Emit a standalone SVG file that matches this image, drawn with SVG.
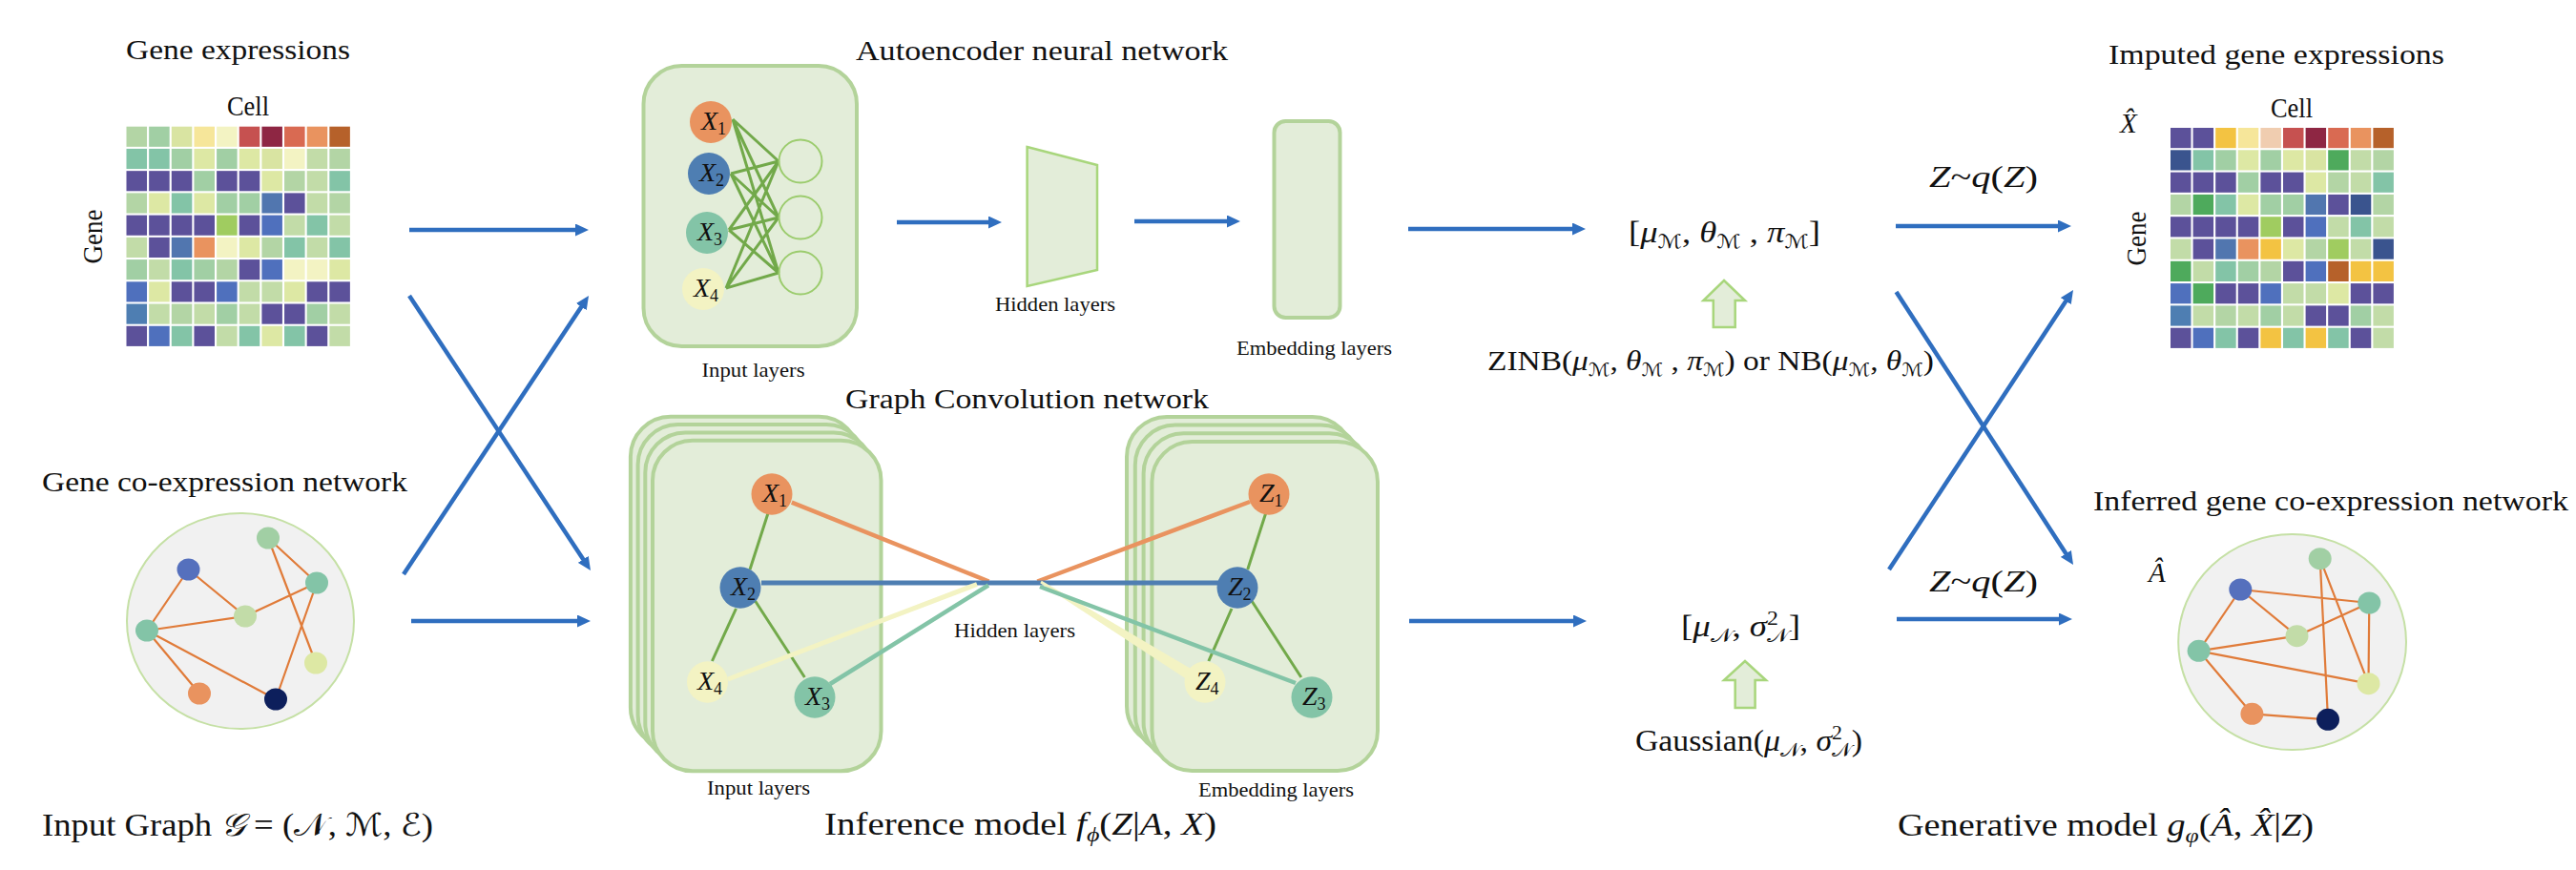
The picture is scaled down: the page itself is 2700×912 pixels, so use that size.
<svg xmlns="http://www.w3.org/2000/svg" width="2700" height="912" viewBox="0 0 2700 912">
<defs>
<style>
.t{font-family:"Liberation Serif","DejaVu Serif","DejaVu Sans",serif;fill:#111}
.h{font-size:29px}
.sm{font-size:21px}
.i{font-style:italic}
.up{font-style:normal}
.conn{stroke:#2f6ebf;stroke-width:4.5;fill:none}
.box{fill:#e3edd9;stroke:#b3d39a;stroke-width:4}
.gc{fill:#f1f1f1;stroke:#c5e0a5;stroke-width:2}
.ge{stroke:#e07b39;stroke-width:2.2;fill:none}
.nn{stroke:#72a94a;stroke-width:3;fill:none}
.hc{fill:none;stroke:#9ccc6e;stroke-width:2}
.ha{fill:#e3edd9;stroke:#a8d67c;stroke-width:2.5}
.a{fill:#b3d5a5}.b{fill:#a1cfa4}.c{fill:#d9e4a2}.d{fill:#f6e69a}.e{fill:#f3f3c3}
.f{fill:#c65150}.g{fill:#8e2643}.h2{fill:#d96a52}.o{fill:#e9935f}.j{fill:#b6612a}
.k{fill:#83c4a7}.l{fill:#dde8a4}.m{fill:#c2dca8}.p{fill:#5c519a}.q{fill:#5176af}
.r{fill:#4f70bd}.s{fill:#a0cc60}.u{fill:#4e7eb2}.y{fill:#f3c342}.v{fill:#f0cdb0}
.w{fill:#3a548e}.x{fill:#4eaa5c}.n{fill:#0d1f5c}.bl{fill:#5570bd}
</style>
<marker id="ah" markerUnits="userSpaceOnUse" markerWidth="14" markerHeight="13" refX="2" refY="6.5" orient="auto" viewBox="0 0 14 13"><path d="M0,0L14,6.5L0,13z" fill="#2f6ebf"/></marker>
<rect id="cell" width=".91" height=".91"/>
</defs>
<rect width="2700" height="912" fill="#fff"/>

<!-- Gene expressions heatmap -->
<g id="gene-expressions">
<text class="t h" x="132" y="62" textLength="235" lengthAdjust="spacingAndGlyphs">Gene expressions</text>
<text class="t h" x="238" y="121" textLength="44" lengthAdjust="spacingAndGlyphs">Cell</text>
<text class="t h" transform="translate(107,248) rotate(-90)" text-anchor="middle" textLength="57" lengthAdjust="spacingAndGlyphs">Gene</text>
<g transform="translate(132.5,132.7) scale(23.65,23.23)">
<use href="#cell" x="0" y="0" class="a"/><use href="#cell" x="1" y="0" class="b"/><use href="#cell" x="2" y="0" class="c"/><use href="#cell" x="3" y="0" class="d"/><use href="#cell" x="4" y="0" class="e"/><use href="#cell" x="5" y="0" class="f"/><use href="#cell" x="6" y="0" class="g"/><use href="#cell" x="7" y="0" class="h2"/><use href="#cell" x="8" y="0" class="o"/><use href="#cell" x="9" y="0" class="j"/>
<use href="#cell" x="0" y="1" class="k"/><use href="#cell" x="1" y="1" class="k"/><use href="#cell" x="2" y="1" class="b"/><use href="#cell" x="3" y="1" class="l"/><use href="#cell" x="4" y="1" class="b"/><use href="#cell" x="5" y="1" class="l"/><use href="#cell" x="6" y="1" class="c"/><use href="#cell" x="7" y="1" class="e"/><use href="#cell" x="8" y="1" class="m"/><use href="#cell" x="9" y="1" class="a"/>
<use href="#cell" x="0" y="2" class="p"/><use href="#cell" x="1" y="2" class="p"/><use href="#cell" x="2" y="2" class="p"/><use href="#cell" x="3" y="2" class="b"/><use href="#cell" x="4" y="2" class="p"/><use href="#cell" x="5" y="2" class="p"/><use href="#cell" x="6" y="2" class="l"/><use href="#cell" x="7" y="2" class="a"/><use href="#cell" x="8" y="2" class="m"/><use href="#cell" x="9" y="2" class="k"/>
<use href="#cell" x="0" y="3" class="a"/><use href="#cell" x="1" y="3" class="l"/><use href="#cell" x="2" y="3" class="k"/><use href="#cell" x="3" y="3" class="l"/><use href="#cell" x="4" y="3" class="b"/><use href="#cell" x="5" y="3" class="b"/><use href="#cell" x="6" y="3" class="q"/><use href="#cell" x="7" y="3" class="p"/><use href="#cell" x="8" y="3" class="m"/><use href="#cell" x="9" y="3" class="a"/>
<use href="#cell" x="0" y="4" class="p"/><use href="#cell" x="1" y="4" class="p"/><use href="#cell" x="2" y="4" class="p"/><use href="#cell" x="3" y="4" class="p"/><use href="#cell" x="4" y="4" class="s"/><use href="#cell" x="5" y="4" class="p"/><use href="#cell" x="6" y="4" class="r"/><use href="#cell" x="7" y="4" class="m"/><use href="#cell" x="8" y="4" class="k"/><use href="#cell" x="9" y="4" class="m"/>
<use href="#cell" x="0" y="5" class="m"/><use href="#cell" x="1" y="5" class="p"/><use href="#cell" x="2" y="5" class="q"/><use href="#cell" x="3" y="5" class="o"/><use href="#cell" x="4" y="5" class="e"/><use href="#cell" x="5" y="5" class="l"/><use href="#cell" x="6" y="5" class="a"/><use href="#cell" x="7" y="5" class="k"/><use href="#cell" x="8" y="5" class="m"/><use href="#cell" x="9" y="5" class="k"/>
<use href="#cell" x="0" y="6" class="b"/><use href="#cell" x="1" y="6" class="m"/><use href="#cell" x="2" y="6" class="k"/><use href="#cell" x="3" y="6" class="b"/><use href="#cell" x="4" y="6" class="a"/><use href="#cell" x="5" y="6" class="p"/><use href="#cell" x="6" y="6" class="r"/><use href="#cell" x="7" y="6" class="e"/><use href="#cell" x="8" y="6" class="e"/><use href="#cell" x="9" y="6" class="l"/>
<use href="#cell" x="0" y="7" class="r"/><use href="#cell" x="1" y="7" class="l"/><use href="#cell" x="2" y="7" class="p"/><use href="#cell" x="3" y="7" class="p"/><use href="#cell" x="4" y="7" class="r"/><use href="#cell" x="5" y="7" class="m"/><use href="#cell" x="6" y="7" class="m"/><use href="#cell" x="7" y="7" class="l"/><use href="#cell" x="8" y="7" class="p"/><use href="#cell" x="9" y="7" class="p"/>
<use href="#cell" x="0" y="8" class="u"/><use href="#cell" x="1" y="8" class="m"/><use href="#cell" x="2" y="8" class="a"/><use href="#cell" x="3" y="8" class="m"/><use href="#cell" x="4" y="8" class="b"/><use href="#cell" x="5" y="8" class="m"/><use href="#cell" x="6" y="8" class="p"/><use href="#cell" x="7" y="8" class="p"/><use href="#cell" x="8" y="8" class="b"/><use href="#cell" x="9" y="8" class="m"/>
<use href="#cell" x="0" y="9" class="p"/><use href="#cell" x="1" y="9" class="r"/><use href="#cell" x="2" y="9" class="k"/><use href="#cell" x="3" y="9" class="p"/><use href="#cell" x="4" y="9" class="m"/><use href="#cell" x="5" y="9" class="k"/><use href="#cell" x="6" y="9" class="l"/><use href="#cell" x="7" y="9" class="k"/><use href="#cell" x="8" y="9" class="p"/><use href="#cell" x="9" y="9" class="m"/>
</g>
</g>

<!-- Gene co-expression network -->
<g id="coexpression-network">
<text class="t h" x="44" y="515" textLength="383" lengthAdjust="spacingAndGlyphs">Gene co-expression network</text>
<ellipse class="gc" cx="252" cy="651" rx="119" ry="113"/>
<path class="ge" d="M281,564L332,611M281,564L331,695M197.5,597L257,646M197.5,597L154,661M257,646L332,611M154,661L257,646M154,661L209,727M154,661L289,733M332,611L289,733"/>
<ellipse class="b" cx="281" cy="564" rx="12" ry="11.5"/>
<ellipse class="bl" cx="197.5" cy="597" rx="12" ry="11.5"/>
<ellipse class="k" cx="332" cy="611" rx="12" ry="11.5"/>
<ellipse class="m" cx="257" cy="646" rx="12" ry="11.5"/>
<ellipse class="k" cx="154" cy="661" rx="12" ry="11.5"/>
<ellipse class="l" cx="331" cy="695" rx="12" ry="11.5"/>
<ellipse class="o" cx="209" cy="727" rx="12" ry="11.5"/>
<ellipse class="n" cx="289" cy="733" rx="12" ry="11.5"/>
</g>
<text id="input-graph" class="t" font-size="33" x="44" y="876" textLength="410" lengthAdjust="spacingAndGlyphs">Input Graph <tspan class="i">𝒢</tspan> = (𝒩, ℳ, ℰ)</text>

<!-- Autoencoder -->
<g id="autoencoder">
<text class="t h" x="897" y="63" textLength="390" lengthAdjust="spacingAndGlyphs">Autoencoder neural network</text>
<rect class="box" x="674.5" y="69" width="223.5" height="294" rx="40"/>
<path class="nn" d="M768,125L816,169M768,125L816,228M768,125L816,286M766,182L816,169M766,182L816,228M766,182L816,286M764,241L816,169M764,241L816,228M764,241L816,286M761,302L816,169M761,302L816,228M761,302L816,286"/>
<circle class="o" cx="745" cy="128" r="22"/>
<circle class="u" cx="743" cy="182" r="22"/>
<circle class="k" cx="741" cy="244" r="22"/>
<circle class="e" cx="737" cy="303" r="22"/>
<circle class="hc" cx="839" cy="169" r="22.5"/>
<circle class="hc" cx="839" cy="228" r="22.5"/>
<circle class="hc" cx="839" cy="286" r="22.5"/>
<text class="t i" font-size="28" x="735" y="136">X<tspan class="up" font-size="18" dy="5">1</tspan></text>
<text class="t i" font-size="28" x="733" y="190">X<tspan class="up" font-size="18" dy="5">2</tspan></text>
<text class="t i" font-size="28" x="731" y="252">X<tspan class="up" font-size="18" dy="5">3</tspan></text>
<text class="t i" font-size="28" x="727" y="311">X<tspan class="up" font-size="18" dy="5">4</tspan></text>
<text class="t sm" x="735.5" y="395" textLength="108" lengthAdjust="spacingAndGlyphs">Input layers</text>
<polygon class="ha" points="1076.6,154 1150,173 1150,283 1076.6,300"/>
<text class="t sm" x="1043" y="326" textLength="126" lengthAdjust="spacingAndGlyphs">Hidden layers</text>
<rect class="box" x="1335.5" y="127" width="69" height="206" rx="12"/>
<text class="t sm" x="1296" y="372" textLength="163" lengthAdjust="spacingAndGlyphs">Embedding layers</text>
</g>

<!-- Graph convolution network -->
<g id="gcn">
<text class="t h" x="886" y="428" textLength="381" lengthAdjust="spacingAndGlyphs">Graph Convolution network</text>
<rect class="box" x="660.9" y="436.8" width="239.5" height="346.6" rx="42"/>
<rect class="box" x="668.6" y="445.1" width="239.5" height="346.6" rx="42"/>
<rect class="box" x="676.3" y="453.4" width="239.5" height="346.6" rx="42"/>
<rect class="box" x="684" y="461.7" width="239.5" height="346.6" rx="42"/>
<rect class="box" x="1181" y="436.9" width="236.6" height="345" rx="42"/>
<rect class="box" x="1189.8" y="445.6" width="236.6" height="345" rx="42"/>
<rect class="box" x="1198.6" y="454.3" width="236.6" height="345" rx="42"/>
<rect class="box" x="1207.4" y="463" width="236.6" height="345" rx="42"/>
<path class="nn" stroke-width="3.5" d="M805,538L786,597M771.5,638L746.4,693M791.6,630L843.4,710M1326.7,538L1307.7,597M1291,638L1266.8,693M1312,630L1363.8,710"/>
<path d="M829.8,526.7L1036.5,609.5M1087.3,609.5L1310,526" stroke="#e9935f" stroke-width="4.5" fill="none"/>
<path d="M798,611L1279,611" stroke="#4e7eb2" stroke-width="5" fill="none"/>
<path d="M763,712L1024,612.5" stroke="#f3f3c3" stroke-width="5" fill="none"/>
<polygon points="1090.2,611.3 1091.8,608.7 1253.2,703.9 1246.8,714.1" fill="#f3f3c3"/>
<path d="M870,717L1036,613.5M1090,615L1358,716" stroke="#83c4a7" stroke-width="4.5" fill="none"/>
<ellipse class="o" cx="809" cy="518" rx="21.5" ry="21.7"/>
<ellipse class="u" cx="776" cy="616" rx="21.5" ry="21.7"/>
<ellipse class="e" cx="741.5" cy="715" rx="21.5" ry="21.7"/>
<ellipse class="k" cx="854" cy="731" rx="21.5" ry="21.7"/>
<ellipse class="o" cx="1330" cy="518" rx="21.5" ry="21.7"/>
<ellipse class="u" cx="1297" cy="616" rx="21.5" ry="21.7"/>
<ellipse class="e" cx="1263" cy="715" rx="21.5" ry="21.7"/>
<ellipse class="k" cx="1375" cy="731" rx="21.5" ry="21.7"/>
<text class="t i" font-size="28" x="799" y="526">X<tspan class="up" font-size="18" dy="5">1</tspan></text>
<text class="t i" font-size="28" x="766" y="624">X<tspan class="up" font-size="18" dy="5">2</tspan></text>
<text class="t i" font-size="28" x="731" y="723">X<tspan class="up" font-size="18" dy="5">4</tspan></text>
<text class="t i" font-size="28" x="844" y="739">X<tspan class="up" font-size="18" dy="5">3</tspan></text>
<text class="t i" font-size="28" x="1320" y="526">Z<tspan class="up" font-size="18" dy="5">1</tspan></text>
<text class="t i" font-size="28" x="1287" y="624">Z<tspan class="up" font-size="18" dy="5">2</tspan></text>
<text class="t i" font-size="28" x="1253" y="723">Z<tspan class="up" font-size="18" dy="5">4</tspan></text>
<text class="t i" font-size="28" x="1365" y="739">Z<tspan class="up" font-size="18" dy="5">3</tspan></text>
<text class="t sm" x="1000" y="668" textLength="127" lengthAdjust="spacingAndGlyphs">Hidden layers</text>
<text class="t sm" x="741" y="833" textLength="108" lengthAdjust="spacingAndGlyphs">Input layers</text>
<text class="t sm" x="1256" y="835" textLength="163" lengthAdjust="spacingAndGlyphs">Embedding layers</text>
</g>
<text id="inference-model" class="t" font-size="33" x="864" y="875" textLength="411" lengthAdjust="spacingAndGlyphs">Inference model <tspan class="i">f</tspan><tspan class="i" font-size="22" dy="7">ϕ</tspan><tspan dy="-7">(</tspan><tspan class="i">Z</tspan>|<tspan class="i">A</tspan>, <tspan class="i">X</tspan>)</text>

<!-- Distribution parameters -->
<g id="zinb-params">
<text class="t" font-size="31" x="1707" y="254" textLength="201" lengthAdjust="spacingAndGlyphs">[<tspan class="i">μ</tspan><tspan font-size="20" dy="6">ℳ</tspan><tspan dy="-6">, </tspan><tspan class="i">θ</tspan><tspan font-size="20" dy="6">ℳ</tspan><tspan dy="-6"> , </tspan><tspan class="i">π</tspan><tspan font-size="20" dy="6">ℳ</tspan><tspan dy="-6">]</tspan></text>
<polygon class="ha" points="1807,294 1829,315 1818.7,315 1818.7,343 1795.8,343 1795.8,315 1785.4,315"/>
<text class="t" font-size="30" x="1559" y="388" textLength="468" lengthAdjust="spacingAndGlyphs">ZINB(<tspan class="i">μ</tspan><tspan font-size="19" dy="6">ℳ</tspan><tspan dy="-6">, </tspan><tspan class="i">θ</tspan><tspan font-size="19" dy="6">ℳ</tspan><tspan dy="-6"> , </tspan><tspan class="i">π</tspan><tspan font-size="19" dy="6">ℳ</tspan><tspan dy="-6">) or NB(</tspan><tspan class="i">μ</tspan><tspan font-size="19" dy="6">ℳ</tspan><tspan dy="-6">, </tspan><tspan class="i">θ</tspan><tspan font-size="19" dy="6">ℳ</tspan><tspan dy="-6">)</tspan></text>
</g>
<g id="gaussian-params">
<text class="t" font-size="31" x="1762" y="667" textLength="125" lengthAdjust="spacingAndGlyphs">[<tspan class="i">μ</tspan><tspan font-size="20" dy="6">𝒩</tspan><tspan dy="-6">, </tspan><tspan class="i">σ</tspan><tspan font-size="20" dy="-12">2</tspan><tspan font-size="20" dx="-10" dy="18">𝒩</tspan><tspan dy="-6">]</tspan></text>
<polygon class="ha" points="1829,693 1851,713 1839.6,713 1839.6,742 1818.7,742 1818.7,713 1807,713"/>
<text class="t" font-size="31" x="1714" y="787" textLength="238" lengthAdjust="spacingAndGlyphs">Gaussian(<tspan class="i">μ</tspan><tspan font-size="20" dy="6">𝒩</tspan><tspan dy="-6">, </tspan><tspan class="i">σ</tspan><tspan font-size="20" dy="-12">2</tspan><tspan font-size="20" dx="-10" dy="18">𝒩</tspan><tspan dy="-6">)</tspan></text>
</g>

<!-- Imputed gene expressions -->
<g id="imputed-expressions">
<text class="t h" x="2210" y="67" textLength="352" lengthAdjust="spacingAndGlyphs">Imputed gene expressions</text>
<text class="t h" x="2380" y="123" textLength="44" lengthAdjust="spacingAndGlyphs">Cell</text>
<text class="t i" font-size="29" x="2222" y="139">X̂</text>
<text class="t h" transform="translate(2249,250) rotate(-90)" text-anchor="middle" textLength="57" lengthAdjust="spacingAndGlyphs">Gene</text>
<g transform="translate(2275,134) scale(23.6,23.3)">
<use href="#cell" x="0" y="0" class="p"/><use href="#cell" x="1" y="0" class="p"/><use href="#cell" x="2" y="0" class="y"/><use href="#cell" x="3" y="0" class="d"/><use href="#cell" x="4" y="0" class="v"/><use href="#cell" x="5" y="0" class="f"/><use href="#cell" x="6" y="0" class="g"/><use href="#cell" x="7" y="0" class="h2"/><use href="#cell" x="8" y="0" class="o"/><use href="#cell" x="9" y="0" class="j"/>
<use href="#cell" x="0" y="1" class="w"/><use href="#cell" x="1" y="1" class="k"/><use href="#cell" x="2" y="1" class="b"/><use href="#cell" x="3" y="1" class="l"/><use href="#cell" x="4" y="1" class="b"/><use href="#cell" x="5" y="1" class="l"/><use href="#cell" x="6" y="1" class="c"/><use href="#cell" x="7" y="1" class="x"/><use href="#cell" x="8" y="1" class="m"/><use href="#cell" x="9" y="1" class="a"/>
<use href="#cell" x="0" y="2" class="p"/><use href="#cell" x="1" y="2" class="p"/><use href="#cell" x="2" y="2" class="p"/><use href="#cell" x="3" y="2" class="b"/><use href="#cell" x="4" y="2" class="p"/><use href="#cell" x="5" y="2" class="p"/><use href="#cell" x="6" y="2" class="l"/><use href="#cell" x="7" y="2" class="a"/><use href="#cell" x="8" y="2" class="m"/><use href="#cell" x="9" y="2" class="k"/>
<use href="#cell" x="0" y="3" class="a"/><use href="#cell" x="1" y="3" class="x"/><use href="#cell" x="2" y="3" class="k"/><use href="#cell" x="3" y="3" class="l"/><use href="#cell" x="4" y="3" class="b"/><use href="#cell" x="5" y="3" class="b"/><use href="#cell" x="6" y="3" class="q"/><use href="#cell" x="7" y="3" class="p"/><use href="#cell" x="8" y="3" class="w"/><use href="#cell" x="9" y="3" class="a"/>
<use href="#cell" x="0" y="4" class="p"/><use href="#cell" x="1" y="4" class="p"/><use href="#cell" x="2" y="4" class="p"/><use href="#cell" x="3" y="4" class="p"/><use href="#cell" x="4" y="4" class="s"/><use href="#cell" x="5" y="4" class="p"/><use href="#cell" x="6" y="4" class="r"/><use href="#cell" x="7" y="4" class="m"/><use href="#cell" x="8" y="4" class="k"/><use href="#cell" x="9" y="4" class="m"/>
<use href="#cell" x="0" y="5" class="m"/><use href="#cell" x="1" y="5" class="p"/><use href="#cell" x="2" y="5" class="q"/><use href="#cell" x="3" y="5" class="o"/><use href="#cell" x="4" y="5" class="y"/><use href="#cell" x="5" y="5" class="l"/><use href="#cell" x="6" y="5" class="a"/><use href="#cell" x="7" y="5" class="s"/><use href="#cell" x="8" y="5" class="m"/><use href="#cell" x="9" y="5" class="w"/>
<use href="#cell" x="0" y="6" class="x"/><use href="#cell" x="1" y="6" class="m"/><use href="#cell" x="2" y="6" class="k"/><use href="#cell" x="3" y="6" class="b"/><use href="#cell" x="4" y="6" class="a"/><use href="#cell" x="5" y="6" class="p"/><use href="#cell" x="6" y="6" class="r"/><use href="#cell" x="7" y="6" class="j"/><use href="#cell" x="8" y="6" class="y"/><use href="#cell" x="9" y="6" class="y"/>
<use href="#cell" x="0" y="7" class="r"/><use href="#cell" x="1" y="7" class="x"/><use href="#cell" x="2" y="7" class="p"/><use href="#cell" x="3" y="7" class="p"/><use href="#cell" x="4" y="7" class="r"/><use href="#cell" x="5" y="7" class="m"/><use href="#cell" x="6" y="7" class="m"/><use href="#cell" x="7" y="7" class="l"/><use href="#cell" x="8" y="7" class="p"/><use href="#cell" x="9" y="7" class="p"/>
<use href="#cell" x="0" y="8" class="u"/><use href="#cell" x="1" y="8" class="m"/><use href="#cell" x="2" y="8" class="a"/><use href="#cell" x="3" y="8" class="m"/><use href="#cell" x="4" y="8" class="b"/><use href="#cell" x="5" y="8" class="m"/><use href="#cell" x="6" y="8" class="p"/><use href="#cell" x="7" y="8" class="p"/><use href="#cell" x="8" y="8" class="b"/><use href="#cell" x="9" y="8" class="m"/>
<use href="#cell" x="0" y="9" class="p"/><use href="#cell" x="1" y="9" class="r"/><use href="#cell" x="2" y="9" class="k"/><use href="#cell" x="3" y="9" class="p"/><use href="#cell" x="4" y="9" class="y"/><use href="#cell" x="5" y="9" class="k"/><use href="#cell" x="6" y="9" class="y"/><use href="#cell" x="7" y="9" class="k"/><use href="#cell" x="8" y="9" class="p"/><use href="#cell" x="9" y="9" class="m"/>
</g>
</g>

<!-- Inferred gene co-expression network -->
<g id="inferred-network">
<text class="t h" x="2194" y="535" textLength="498" lengthAdjust="spacingAndGlyphs">Inferred gene co-expression network</text>
<text class="t i" font-size="29" x="2252" y="610">Â</text>
<ellipse class="gc" cx="2402.6" cy="673" rx="119.4" ry="113"/>
<path class="ge" d="M2348.3,618L2483.3,632M2348.3,618L2407.5,666.7M2348.3,618L2304.6,682.3M2407.5,666.7L2483.3,632M2304.6,682.3L2407.5,666.7M2304.6,682.3L2482.5,716.7M2304.6,682.3L2360.4,748.3M2360.4,748.3L2440,754.3M2431.7,585.7L2440,754.3M2431.7,585.7L2482.5,716.7M2483.3,632L2482.5,716.7"/>
<ellipse class="b" cx="2431.7" cy="585.7" rx="12" ry="11.5"/>
<ellipse class="bl" cx="2348.3" cy="618" rx="12" ry="11.5"/>
<ellipse class="k" cx="2483.3" cy="632" rx="12" ry="11.5"/>
<ellipse class="m" cx="2407.5" cy="666.7" rx="12" ry="11.5"/>
<ellipse class="k" cx="2304.6" cy="682.3" rx="12" ry="11.5"/>
<ellipse class="l" cx="2482.5" cy="716.7" rx="12" ry="11.5"/>
<ellipse class="o" cx="2360.4" cy="748.3" rx="12" ry="11.5"/>
<ellipse class="n" cx="2440" cy="754.3" rx="12" ry="11.5"/>
</g>
<text id="generative-model" class="t" font-size="33" x="1989" y="876" textLength="436" lengthAdjust="spacingAndGlyphs">Generative model <tspan class="i">g</tspan><tspan class="i" font-size="22" dy="7">φ</tspan><tspan dy="-7">(</tspan><tspan class="i">Â</tspan>, <tspan class="i">X̂</tspan>|<tspan class="i">Z</tspan>)</text>

<!-- Connectors -->
<g id="connectors" marker-end="url(#ah)">
<path class="conn" d="M429,241H605"/>
<path class="conn" d="M429,310L612.4,588"/>
<path class="conn" d="M423,602L610.4,320"/>
<path class="conn" d="M431,651H607"/>
<path class="conn" d="M940,233H1038"/>
<path class="conn" d="M1189,232H1288"/>
<path class="conn" d="M1476,240H1650"/>
<path class="conn" d="M1477,651H1651"/>
<path class="conn" d="M1987,237H2159"/>
<path class="conn" d="M1987.5,306L2166.5,582"/>
<path class="conn" d="M1980,597L2166.4,314"/>
<path class="conn" d="M1988,649H2160"/>
</g>
<text class="t i" font-size="31" x="2022" y="196" textLength="114" lengthAdjust="spacingAndGlyphs">Z<tspan class="up">~</tspan>q<tspan class="up">(</tspan>Z<tspan class="up">)</tspan></text>
<text class="t i" font-size="31" x="2022" y="620" textLength="114" lengthAdjust="spacingAndGlyphs">Z<tspan class="up">~</tspan>q<tspan class="up">(</tspan>Z<tspan class="up">)</tspan></text>
</svg>
